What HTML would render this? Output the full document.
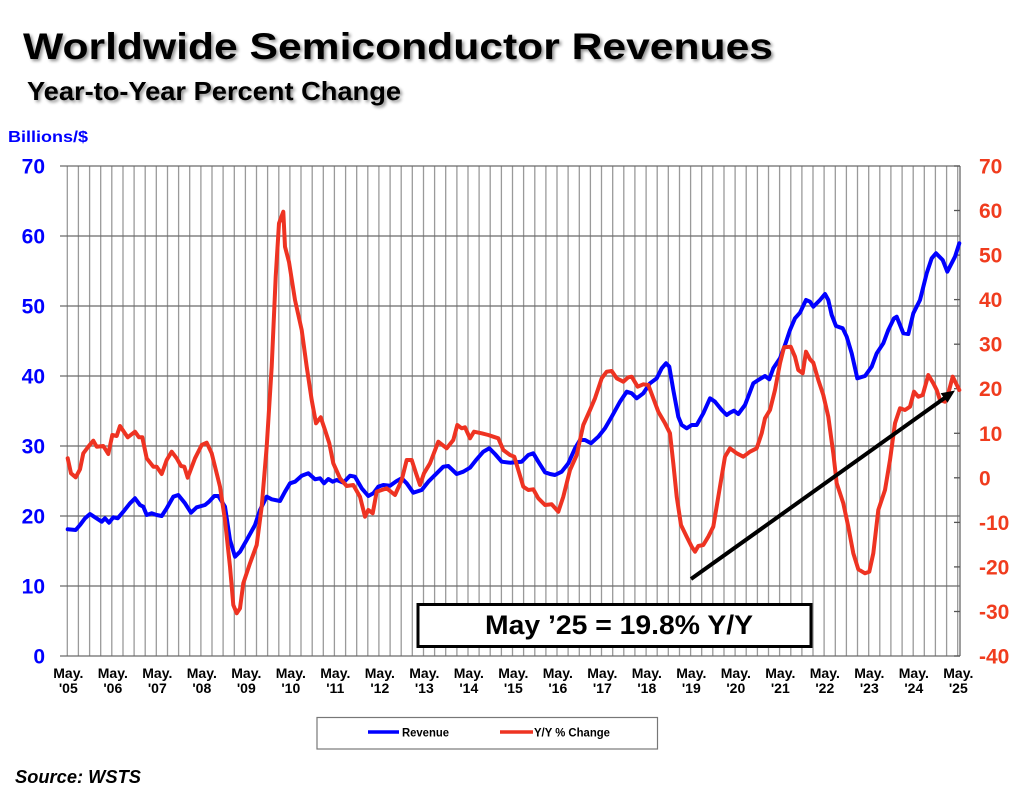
<!DOCTYPE html>
<html><head><meta charset="utf-8"><style>
html,body{margin:0;padding:0;background:#fff;}
svg{display:block;font-family:"Liberation Sans",Arial,sans-serif;}
.t{font-weight:bold;}
</style></head><body>
<svg width="1024" height="791" viewBox="0 0 1024 791" xmlns="http://www.w3.org/2000/svg">
<defs>
<filter id="sh" x="-5%" y="-20%" width="110%" height="160%"><feGaussianBlur in="SourceAlpha" stdDeviation="1.5"/><feOffset dx="2" dy="2" result="o"/><feComponentTransfer><feFuncA type="linear" slope="0.45"/></feComponentTransfer><feMerge><feMergeNode/><feMergeNode in="SourceGraphic"/></feMerge></filter>
</defs>
<rect width="1024" height="791" fill="#fff"/>
<g filter="url(#sh)">
<text x="23" y="59" font-size="37" class="t" textLength="750" lengthAdjust="spacingAndGlyphs">Worldwide Semiconductor Revenues</text>
<text x="27" y="100" font-size="26" class="t" textLength="374" lengthAdjust="spacingAndGlyphs">Year-to-Year Percent Change</text>
</g>
<text x="8" y="142" font-size="16" class="t" fill="#0000ff" textLength="80" lengthAdjust="spacingAndGlyphs">Billions/$</text>

<g id="vgrid" stroke="#9a9a9a" stroke-width="1.3"></g>
<g stroke="#6a6a6a" stroke-width="1.3">
<line x1="60" y1="166" x2="960" y2="166"/><line x1="60" y1="236" x2="960" y2="236"/>
<line x1="60" y1="306" x2="960" y2="306"/><line x1="60" y1="376" x2="960" y2="376"/>
<line x1="60" y1="446" x2="960" y2="446"/><line x1="60" y1="516" x2="960" y2="516"/>
<line x1="60" y1="586" x2="960" y2="586"/><line x1="60" y1="656" x2="960" y2="656"/>
<line x1="960" y1="166" x2="960" y2="656"/>
</g>
<g id="rticks" stroke="#555" stroke-width="1.3"></g>

<g font-size="21" class="t" fill="#0000ff" text-anchor="end" id="ly"></g>
<g font-size="21" class="t" fill="#f03c1e" id="ry"></g>
<g font-size="14" class="t" fill="#000" text-anchor="middle" id="xl"></g>

<polyline fill="none" stroke="#0000ff" stroke-width="4" stroke-linejoin="round" stroke-linecap="round" points="67.7,529.3 75.7,530 80,525 85,518.3 90,514 95,517.3 101.7,521.7 105,518.3 109,522.7 113.3,517.3 117.7,518.3 123.3,511.7 130,503.3 135,498.3 140,505 143.3,506.7 146.7,515 151.7,513.3 156.7,515 161.7,516 166.7,508.3 173.3,496.7 178.3,495 185,503.3 191,512.7 196.7,507.3 205,505 209,501.7 214.3,496 218.3,496 225,506.7 230,540 235,556.7 240,551.7 246.7,540 255,525 260,510 266.7,496.7 271.7,499.3 280,501 285,491.7 290,483.3 295,481.7 301.7,475.7 308.3,473.3 315,479.3 320,478.3 324,483.3 328.3,479 332.7,481.7 336.7,480 343.3,482.7 350,475.7 355,476.7 361.7,488.3 368.3,496 373.3,493.3 378.3,486.7 383.3,485 390,485.7 396.7,481 401.7,478.3 406.7,483.3 413.3,492.7 421.7,490 428.3,481.7 436.7,473.3 443.3,466.7 448.3,466 456.7,474 463.3,471.7 470,467.7 476.7,459.3 483.3,451.7 489.3,448.3 495,454 501.7,461.7 510,462.7 521.7,461.7 528.3,455 533.3,453.3 538.3,461.7 545,472.3 550,474 555,475 561.7,471.7 568.3,463.3 575,448.3 580,440 585,440 591,443.3 598.3,436.7 605,428.3 611.7,416.7 620,401.7 626.7,391.7 631.7,393.3 636.7,398.3 643.3,393.3 650,383.3 656.7,378.3 661.7,368.3 666,363.3 669.3,366.7 673.3,390 678.3,416.7 681.7,425 686.7,428.3 691.7,425 696.7,425 703.3,413.3 710,398.3 715,401.7 721.7,410 726.7,415 730,412.7 734,410.7 738.3,414 745,405 753.3,383.3 758.3,380 765,376 769.3,379.3 773.3,368.3 780,358.3 785,345 790,330 795,318.3 800,312.7 806,300 810,301.7 813.3,306.7 820,300 825,294 828.3,300 831.7,315 836,326 842.7,328.3 846.7,336.7 851.7,353.3 857.3,378.3 865,376 871.7,366.7 876.7,353.3 883.3,343.3 888.3,330 894,318.3 896.7,316.7 903.3,333.3 908.3,334 913.3,313.3 920,300 926.7,273.3 931.7,258.3 936,253.3 942.7,260 947.3,271.7 955,256.7 959.3,243.3"/>

<polyline fill="none" stroke="#ee3322" stroke-width="4" stroke-linejoin="round" stroke-linecap="round" points="67.7,458.3 71,473.3 75.7,477.3 80,469.3 83.3,453.3 88.3,446.7 93.3,440.7 96.7,446.7 103.3,446 108.3,454 112.3,435 116.7,436 120,426 127.7,437.3 135,431.7 139,437.3 142.3,437.3 146.7,458.3 153.3,466.7 156.7,466.7 161.7,474 166.7,460 171.7,451.7 176.7,458.3 181,466 184.3,466.7 187.7,477.7 195,458.3 201.7,445 206.7,442.7 211.7,453.3 220,486.7 225,520 230,566.7 233.3,605 236.7,613.3 240,608.3 243.3,583.3 250,563.3 256.7,545 261.7,506.7 266.7,446.7 271.7,366.7 275.7,276.7 279,223.3 283.3,211.7 285,246.7 289,262 295,300 301.7,330 306.7,366.7 311.7,400 316,423.3 320.7,417.3 325,430 329.3,443.3 333.3,463.3 340,478.3 346.7,486 353.3,485 360,496.7 365,516.7 368.3,510 372.7,513.3 376.7,491.7 381.7,490 386.7,488.3 395,495 401.7,480 406.7,460 411.7,460 416,473.3 420,485 424,473.3 430,463.3 438.3,441.7 446.7,448.3 453.3,440 457.3,425 461.7,428.3 465,427.3 470,438.3 474,431.7 481.7,433.3 488.3,435 493.3,436.7 498.3,438.3 503.3,450 510,455 514.3,456.7 518.3,470 523.3,486.7 528.3,490 533.3,489.3 538.3,498.3 545,505 551.7,504.3 558.3,511.7 563.3,496.7 570,470 576.7,455 583.3,425 590,410 595,398.3 601.7,378.3 606.7,371.7 611.7,371 616.7,378.3 623.3,381.7 628.3,377.3 631.7,376.7 637.7,386.7 643.3,384.3 648.3,385 653.3,398.3 658.3,411.7 665,423.3 670,433.3 673.3,463.3 676.7,496.7 681,525 686.7,536.7 691.7,546.7 695,551.7 698.3,546 703.3,545 708.3,536.7 713.3,526.7 718.3,496.7 725,456.7 730,448.3 736.7,453.3 743.3,456.7 750,451.7 756.7,448.3 761.7,433.3 765,418.3 770,410 775,390 780,363.3 784,347.3 790.7,346.7 795,356.7 798.3,370 802.7,373.3 806,351.7 810,359.3 813.3,362.7 818.3,380 823.3,395 828.3,416.7 833.3,453.3 836.7,483.3 843.3,503.3 848.3,526.7 853.3,553.3 858.3,569.3 865,573.3 869.3,571.7 873.3,553.3 878.3,510 885,490 890,460 895,423.3 900,408.3 905,410 910,406.7 914,391.7 918.3,396.7 922.7,395 928.3,375 933.3,383.3 936.7,390 940,400 945,401.7 948.3,393.3 952.7,376.7 959.3,390"/>

<line x1="691" y1="579" x2="946" y2="397" stroke="#000" stroke-width="4"/>
<polygon points="955,390.5 947.5,402.8 940.6,393.2" fill="#000"/>

<rect x="418" y="604.5" width="393" height="42" fill="#fff" stroke="#000" stroke-width="3"/>
<text x="485" y="634" font-size="27" class="t" textLength="268" lengthAdjust="spacingAndGlyphs">May ’25 = 19.8% Y/Y</text>

<rect x="317" y="717.5" width="340.5" height="31.5" fill="#fff" stroke="#777" stroke-width="1.2"/>
<line x1="368" y1="732" x2="399" y2="732" stroke="#0000ff" stroke-width="3.5"/>
<text x="402" y="736.5" font-size="11.5" class="t" textLength="47" lengthAdjust="spacingAndGlyphs">Revenue</text>
<line x1="500" y1="732" x2="533" y2="732" stroke="#ee3322" stroke-width="3.5"/>
<text x="534" y="736.5" font-size="11.5" class="t" textLength="76" lengthAdjust="spacingAndGlyphs">Y/Y % Change</text>

<text x="15" y="783" font-size="18" class="t" font-style="italic" textLength="126" lengthAdjust="spacingAndGlyphs">Source: WSTS</text>

<script>
(function(){
var ns="http://www.w3.org/2000/svg";
function el(t,a,p,txt){var e=document.createElementNS(ns,t);for(var k in a)e.setAttribute(k,a[k]);if(txt!==undefined)e.textContent=txt;p.appendChild(e);return e;}
var vg=document.getElementById('vgrid');
for(var k=0;k<=80;k++){var x=(67.3+11.13*k).toFixed(1);el('line',{x1:x,y1:166,x2:x,y2:656},vg);}
var ly=document.getElementById('ly');
for(var v=0;v<=70;v+=10){el('text',{x:45,y:(656-v*7+7.5).toFixed(1)},ly,String(v));}
var ry=document.getElementById('ry'),rt=document.getElementById('rticks');
for(var v=70;v>=-40;v-=10){var y=166+(70-v)*4.4545;el('text',{x:979,y:(y+7.5).toFixed(1)},ry,String(v).replace('-','-'));el('line',{x1:954,y1:y.toFixed(1),x2:960,y2:y.toFixed(1)},rt);}
var xl=document.getElementById('xl');
for(var i=0;i<=20;i++){var cx=(68.3+44.5*i).toFixed(1);var yy=(5+i)%100;var s=(yy<10?'0':'')+yy;
el('text',{x:cx,y:678},xl,'May.');el('text',{x:cx,y:693},xl,"'"+s);}
})();
</script>
</svg>
</body></html>
